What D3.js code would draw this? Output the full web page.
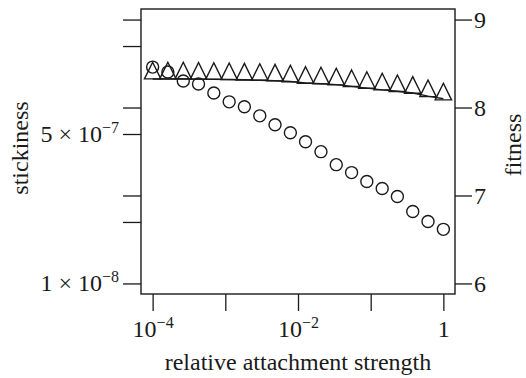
<!DOCTYPE html>
<html>
<head>
<meta charset="utf-8">
<script src="https://cdn.jsdelivr.net/npm/d3@7"></script>
<style>
  body { margin: 0; background: #fff; }
  svg text { font-family: "Liberation Serif", "Times New Roman", serif; fill: #1a1a1a; }
</style>
</head>
<body>
<div id="chart"></div>
<script>
// relative attachment strength (x), one value per simulation
const strength = [1.0e-4, 1.62e-4, 2.64e-4, 4.28e-4, 6.95e-4, 1.13e-3, 1.83e-3, 2.98e-3, 4.83e-3, 7.85e-3,
                  1.27e-2, 2.07e-2, 3.36e-2, 5.46e-2, 8.85e-2, 0.144, 0.233, 0.379, 0.615, 1.0];
// circles, left axis
const stickiness = [2.88e-6, 2.53e-6, 2.00e-6, 1.85e-6, 1.46e-6, 1.16e-6, 1.02e-6, 8.04e-7, 6.36e-7, 5.16e-7,
                    4.08e-7, 3.15e-7, 2.24e-7, 1.82e-7, 1.44e-7, 1.20e-7, 9.73e-8, 6.58e-8, 5.07e-8, 4.12e-8];
// triangles, right axis
const fitness = [8.389, 8.389, 8.389, 8.386, 8.384, 8.381, 8.377, 8.373, 8.366, 8.355,
                 8.339, 8.332, 8.321, 8.302, 8.282, 8.264, 8.245, 8.226, 8.188, 8.151];
// solid line, right axis
const fitnessLine = [8.325, 8.325, 8.325, 8.323, 8.321, 8.318, 8.315, 8.310, 8.305, 8.295,
                     8.280, 8.270, 8.260, 8.240, 8.220, 8.200, 8.185, 8.165, 8.130, 8.100];

const xTicks = [1e-4, 1e-3, 1e-2, 1e-1, 1];
const xTickLabels = {1e-4: ["10", "\u22124"], 1e-2: ["10", "\u22122"], 1: ["1", ""]};
const yTicks = [1e-8, 5e-8, 1e-7, 5e-7, 1e-6, 5e-6, 1e-5];
const yTickLabels = {1e-8: ["1 \u00d7 10", "\u22128"], 5e-7: ["5 \u00d7 10", "\u22127"]};
const fTicks = [6, 7, 8, 9];

const W = 526, H = 378;
const box = {left: 141, right: 455, top: 9, bottom: 294};
const ink = "#1a1a1a";
const fs = 24, supFs = 16;

// R style 4% padding inside the box
const padX = (box.right - box.left) * 0.04 / 1.08;
const padY = (box.bottom - box.top) * 0.04 / 1.08;

const x = d3.scaleLog().domain([1e-4, 1]).range([box.left + padX, box.right - padX]);
const y = d3.scaleLog().domain([1e-8, 1e-5]).range([box.bottom - padY, box.top + padY]);
const f = d3.scaleLinear().domain([6, 9]).range([box.bottom - padY, box.top + padY]);

const svg = d3.select("#chart").append("svg")
    .attr("width", W)
    .attr("height", H);

const supLabel = (sel, parts) => {
  sel.text(null);
  sel.append("tspan").attr("xml:space", "preserve").text(parts[0]);
  if (parts[1]) {
    sel.append("tspan")
      .attr("font-size", supFs)
      .attr("dy", -9)
      .text(parts[1]);
  }
};

const styleAxis = g => {
  g.select(".domain").remove();
  g.selectAll(".tick line").attr("stroke", ink).attr("stroke-width", 1.3);
  g.selectAll(".tick text").attr("font-size", fs).attr("fill", ink);
};

// bottom axis
svg.append("g")
    .attr("transform", "translate(0," + box.bottom + ")")
    .call(d3.axisBottom(x).tickValues(xTicks).tickSize(17).tickFormat(() => ""))
    .call(styleAxis)
    .call(g => g.selectAll(".tick text")
      .attr("y", 43).attr("dy", 0)
      .each(function (d) {
        if (xTickLabels[d]) supLabel(d3.select(this), xTickLabels[d]);
      }));

// left axis
svg.append("g")
    .attr("transform", "translate(" + box.left + ",0)")
    .call(d3.axisLeft(y).tickValues(yTicks).tickSize(18).tickPadding(4).tickFormat(() => ""))
    .call(styleAxis)
    .call(g => g.selectAll(".tick text")
      .attr("dy", "0.3em")
      .each(function (d) {
        if (yTickLabels[d]) supLabel(d3.select(this), yTickLabels[d]);
      }));

// right axis
svg.append("g")
    .attr("transform", "translate(" + box.right + ",0)")
    .call(d3.axisRight(f).tickValues(fTicks).tickSize(17).tickPadding(2).tickFormat(d3.format("d")))
    .call(styleAxis)
    .call(g => g.selectAll(".tick text").attr("dy", "0.33em"));

// frame
svg.append("rect")
    .attr("x", box.left)
    .attr("y", box.top)
    .attr("width", box.right - box.left)
    .attr("height", box.bottom - box.top)
    .attr("fill", "none")
    .attr("stroke", ink)
    .attr("stroke-width", 1.4);

const pts = strength.map((s, i) => ({s: s, stick: stickiness[i], fit: fitness[i], line: fitnessLine[i]}));

// fitness line
svg.append("path")
    .datum(pts)
    .attr("d", d3.line().x(d => x(d.s)).y(d => f(d.line)))
    .attr("fill", "none")
    .attr("stroke", ink)
    .attr("stroke-width", 1.4);

// triangles (centroid on the point)
const tri = "M0,-11L8.2,5.6L-8.2,5.6Z";
svg.append("g").selectAll("path")
  .data(pts)
  .enter()
    .append("path")
    .attr("transform", d => "translate(" + x(d.s) + "," + f(d.fit) + ")")
    .attr("d", tri)
    .attr("fill", "none")
    .attr("stroke", ink)
    .attr("stroke-width", 1.4);

// circles
svg.append("g").selectAll("circle")
  .data(pts)
  .enter()
    .append("circle")
    .attr("cx", d => x(d.s))
    .attr("cy", d => y(d.stick))
    .attr("r", 6)
    .attr("fill", "none")
    .attr("stroke", ink)
    .attr("stroke-width", 1.4);

// axis titles
svg.append("text")
    .attr("x", (box.left + box.right) / 2)
    .attr("y", 370)
    .attr("text-anchor", "middle")
    .attr("font-size", fs)
    .text("relative attachment strength");

svg.append("text")
    .attr("transform", "translate(28,148) rotate(-90)")
    .attr("text-anchor", "middle")
    .attr("font-size", fs)
    .text("stickiness");

svg.append("text")
    .attr("transform", "translate(521,145) rotate(-90)")
    .attr("text-anchor", "middle")
    .attr("font-size", fs)
    .text("fitness");
</script>
</body>
</html>
